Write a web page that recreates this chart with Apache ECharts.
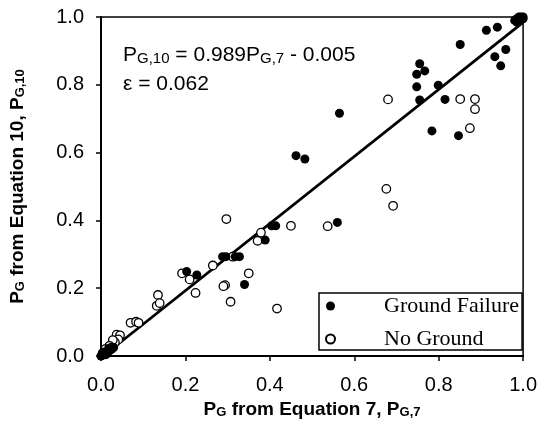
<!DOCTYPE html>
<html>
<head>
<meta charset="utf-8">
<script src="https://cdn.jsdelivr.net/npm/echarts@6/dist/echarts.min.js"></script>
<style>
  html, body { margin: 0; padding: 0; background: #fff; }
  #chart { width: 540px; height: 441px; }
</style>
</head>
<body>
<div id="chart"></div>
<script>
// axis ticks
var tickValues = [0, 0.2, 0.4, 0.6, 0.8, 1.0];

// fitted line P_G,10 = 0.989 P_G,7 - 0.005
var fitSlope = 0.989;
var fitIntercept = -0.005;

// [P_G,7, P_G,10]
var groundFailure = [
  [0.913, 0.961], [0.939, 0.970], [0.851, 0.919], [0.959, 0.904], [0.933, 0.883],
  [0.947, 0.856], [0.755, 0.862], [0.767, 0.841], [0.748, 0.831], [0.748, 0.794],
  [0.799, 0.799], [0.755, 0.755], [0.815, 0.757], [0.565, 0.716], [0.784, 0.664],
  [0.847, 0.650], [0.462, 0.591], [0.483, 0.581], [0.560, 0.394], [0.404, 0.384],
  [0.414, 0.384], [0.389, 0.342], [0.288, 0.293], [0.296, 0.293], [0.318, 0.293],
  [0.328, 0.293], [0.203, 0.249], [0.227, 0.239], [0.340, 0.211],
  [0.000, 0.000], [0.005, 0.003], [0.010, 0.008], [0.015, 0.010], [0.020, 0.015],
  [0.025, 0.020], [0.008, 0.012], [0.012, 0.004], [0.003, 0.008], [0.030, 0.025],
  [0.018, 0.022],
  [0.980, 0.990], [0.985, 0.995], [0.990, 1.000], [0.995, 0.995], [1.000, 1.000],
  [0.995, 1.000], [0.990, 0.990], [1.000, 0.995], [0.985, 0.985]
];

var noGround = [
  [0.680, 0.757], [0.851, 0.758], [0.886, 0.758], [0.886, 0.728], [0.874, 0.672],
  [0.676, 0.493], [0.692, 0.443], [0.537, 0.383], [0.297, 0.404], [0.450, 0.384],
  [0.379, 0.364], [0.371, 0.340], [0.312, 0.293], [0.265, 0.267], [0.192, 0.244],
  [0.210, 0.226], [0.350, 0.244], [0.294, 0.209], [0.290, 0.206], [0.224, 0.186],
  [0.307, 0.160], [0.417, 0.140], [0.135, 0.180], [0.132, 0.148], [0.139, 0.156],
  [0.070, 0.098], [0.083, 0.101], [0.089, 0.098], [0.037, 0.063], [0.045, 0.061],
  [0.041, 0.049], [0.033, 0.040], [0.028, 0.047], [0.020, 0.030], [0.010, 0.020],
  [0.025, 0.025], [0.005, 0.010]
];

var sans = "'Liberation Sans', Arial, sans-serif";
var serif = "'Liberation Serif', 'Times New Roman', serif";

var xStart = -fitIntercept / fitSlope;
var fitLine = [[xStart, 0], [1, fitSlope * 1 + fitIntercept]];

var nameRich = {
  b: { fontFamily: sans, fontWeight: 'bold', fontSize: 19, lineHeight: 22, verticalAlign: 'bottom', color: '#000' },
  s: { fontFamily: sans, fontWeight: 'bold', fontSize: 13, lineHeight: 15, verticalAlign: 'bottom', color: '#000' }
};
var noteRich = {
  m: { fontFamily: sans, fontSize: 21, lineHeight: 24, verticalAlign: 'bottom', color: '#000' },
  s: { fontFamily: sans, fontSize: 15, lineHeight: 17, verticalAlign: 'bottom', color: '#000' }
};

var chart = echarts.init(document.getElementById('chart'));
chart.setOption({
  animation: false,
  grid: {
    left: 99, right: 13, top: 17, bottom: 85,
    show: true, borderColor: '#000', borderWidth: 1.5
  },
  xAxis: {
    type: 'value', min: 0, max: 1, interval: 0.2,
    name: '{b|P}{s|G}{b| from Equation 7, P}{s|G,7}',
    nameLocation: 'middle', nameGap: 40,
    nameTextStyle: { rich: nameRich },
    axisLine: { lineStyle: { color: '#000', width: 2 } },
    axisTick: { show: true, length: 5, lineStyle: { color: '#000', width: 1.5 } },
    splitLine: { show: false },
    axisLabel: {
      margin: 19, fontFamily: sans, fontSize: 20, color: '#000',
      formatter: function (v) { return v.toFixed(1); }
    }
  },
  yAxis: {
    type: 'value', min: 0, max: 1, interval: 0.2,
    name: '{b|P}{s|G}{b| from Equation 10, P}{s|G,10}',
    nameLocation: 'middle', nameGap: 74, nameRotate: 90,
    nameTextStyle: { rich: nameRich },
    axisLine: { lineStyle: { color: '#000', width: 2 } },
    axisTick: { show: true, length: 5, lineStyle: { color: '#000', width: 1.5 } },
    splitLine: { show: false },
    axisLabel: {
      margin: 17, fontFamily: sans, fontSize: 20, color: '#000',
      formatter: function (v) { return v.toFixed(1); }
    }
  },
  legend: {
    data: ['Ground Failure', 'No Ground'],
    orient: 'vertical',
    left: 319, top: 293,
    padding: [2, 3, 0, 6],
    borderColor: '#000', borderWidth: 1.5, backgroundColor: '#fff',
    itemWidth: 9, itemHeight: 9, itemGap: 11,
    icon: 'circle',
    textStyle: { fontFamily: serif, fontSize: 22, color: '#000', padding: [0, 0, 0, 44] }
  },
  graphic: [
    {
      type: 'text', left: 123, top: 45,
      style: { text: '{m|P}{s|G,10}{m| = 0.989P}{s|G,7}{m| - 0.005}', rich: noteRich }
    },
    {
      type: 'text', left: 123, top: 74,
      style: { text: '{m|\u03b5 = 0.062}', rich: noteRich }
    }
  ],
  series: [
    {
      name: 'fit', type: 'line', data: fitLine, symbol: 'none',
      lineStyle: { color: '#000', width: 2.8 }, silent: true, z: 1
    },
    {
      name: 'Ground Failure', type: 'scatter', data: groundFailure,
      symbol: 'circle', symbolSize: 9,
      itemStyle: { color: '#000', opacity: 1 }, z: 3
    },
    {
      name: 'No Ground', type: 'scatter', data: noGround,
      symbol: 'circle', symbolSize: 8.5,
      itemStyle: { color: '#fff', borderColor: '#000', borderWidth: 1.3, opacity: 1 }, z: 2
    }
  ]
});
</script>
</body>
</html>
